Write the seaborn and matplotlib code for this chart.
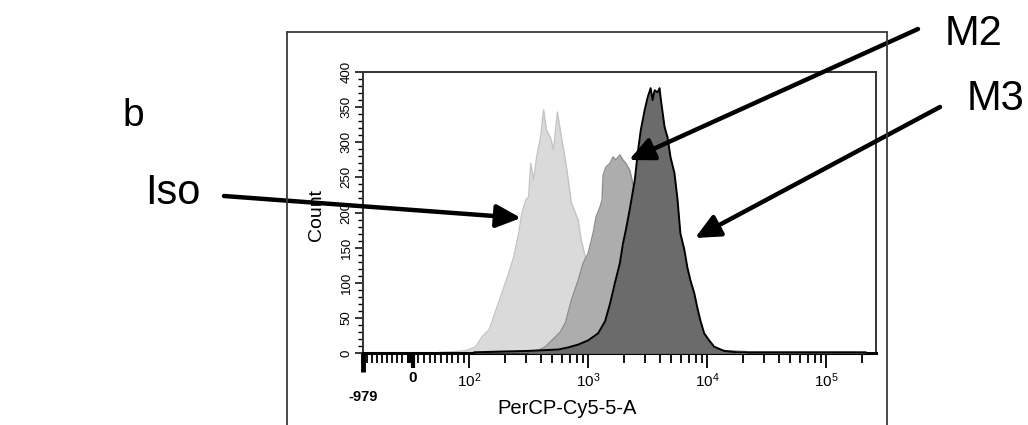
import numpy as np
import matplotlib
matplotlib.use("Agg")
import matplotlib.pyplot as plt
import matplotlib.transforms as mtrans
from matplotlib.lines import Line2D
import seaborn as sns

sns.set_style("white")
plt.rcParams["font.family"] = ["Liberation Sans", "DejaVu Sans"]
plt.rcParams["mathtext.fontset"] = "custom"
plt.rcParams["mathtext.rm"] = "Liberation Sans"
plt.rcParams["mathtext.it"] = "Liberation Sans:italic"
plt.rcParams["mathtext.bf"] = "Liberation Sans:bold"
for key in ["text.color", "axes.labelcolor", "xtick.color", "ytick.color"]:
    plt.rcParams[key] = "black"

# histogram values (PerCP-Cy5-5-A intensity, count)
iso_x = [47, 74, 91, 100, 114, 128, 147, 168, 188, 215, 237, 261, 277, 299, 316, 329, 348, 369, 398, 422,
         447, 482, 511, 552, 596, 643, 681, 722, 825, 874, 944, 1059, 1211, 1386, 1555, 1778, 2034, 2371,
         2873, 3830, 8254, 26100, 177800]
iso_y = [1, 2, 3, 5, 9, 23, 33, 61, 85, 114, 137, 171, 199, 218, 222, 270, 246, 279, 307, 346,
         317, 307, 289, 343, 307, 275, 246, 214, 189, 161, 137, 105, 75, 50, 30, 18, 10, 5,
         3, 2, 1, 1, 1]

m2_x = [316, 383, 438, 531, 584, 643, 722, 825, 908, 1000, 1101, 1166, 1259, 1308, 1334, 1413, 1526, 1616,
        1711, 1848, 1957, 2073, 2239, 2464, 2873, 3481, 4217, 5109, 6190, 8254, 12115, 21544]
m2_y = [2, 4, 9, 23, 30, 43, 75, 104, 128, 142, 171, 194, 208, 218, 253, 265, 270, 279,
        275, 282, 275, 270, 260, 230, 190, 130, 80, 45, 25, 10, 4, 2]

m3_x = [110, 178, 316, 562, 681, 825, 1000, 1211, 1386, 1526, 1679, 1848, 1957, 2073, 2239, 2464, 2610,
        2766, 2985, 3162, 3350, 3481, 3616, 3831, 3981, 4058, 4383, 4642, 4918, 5309, 5623, 5957, 6432,
        6813, 7217, 7793, 8254, 8745, 9441, 10390, 11440, 13860, 17780, 56230, 215400]
m3_y = [1, 2, 3, 5, 8, 12, 18, 28, 45, 70, 100, 128, 155, 175, 205, 246, 285,
        317, 346, 364, 377, 360, 374, 371, 377, 364, 322, 307, 279, 256, 220, 170, 147,
        122, 104, 85, 65, 47, 28, 18, 9, 3, 1, 1, 1]

x_major = [-979, 0, 100, 1000, 10000, 100000]
x_major_labels = ["", "0", r"$\mathregular{10^{2}}$", r"$\mathregular{10^{3}}$",
                  r"$\mathregular{10^{4}}$", r"$\mathregular{10^{5}}$"]
y_major = [0, 50, 100, 150, 200, 250, 300, 350, 400]


# logicle-like axis: linear around zero, log above 100
def fwd(x):
    x = np.asarray(x, dtype=float)
    lg = np.log10(np.clip(x, 100, None))
    lin = 1.525 + 0.475 * x / 100
    neg = 1.525 + x * (0.417 / 979)
    return np.where(x >= 100, lg, np.where(x >= 0, lin, neg))


def inv(u):
    u = np.asarray(u, dtype=float)
    lg = 10 ** np.clip(u, 2, 12)
    lin = (u - 1.525) / 0.475 * 100
    neg = (u - 1.525) * 979 / 0.417
    return np.where(u >= 2, lg, np.where(u >= 1.525, lin, neg))


fig = plt.figure(figsize=(10.28, 4.25), dpi=100)
ax = fig.add_axes([363 / 1028, 1 - 353 / 425, 513 / 1028, 281 / 425])
ax.set_xscale("function", functions=(fwd, inv))

series = [(iso_x, iso_y, "#dadada", "#c4c4c4", 1.0),
          (m2_x, m2_y, "#adadad", "#8c8c8c", 1.0),
          (m3_x, m3_y, "#6b6b6b", "black", 1.4)]
for i, (xs, ys, fill, edge, lw) in enumerate(series):
    ax.fill_between(xs, ys, 0, color=fill, lw=0, zorder=2 * i + 1)
    sns.lineplot(x=xs, y=ys, ax=ax, color=edge, linewidth=lw, zorder=2 * i + 2)

ax.set_xlim(-979, 262144)
ax.set_ylim(0, 400)

# ticks
minor = [-v for v in range(100, 1000, 100)] + [-v for v in range(10, 100, 10)] + list(range(10, 100, 10))
for dec in [100, 1000, 10000]:
    minor += [dec * k for k in range(2, 10)]
minor += [200000]
ax.set_xticks(x_major)
ax.set_xticklabels(x_major_labels)
ax.set_xticks(minor, minor=True)
ax.set_yticks(y_major)
ax.set_yticks(range(0, 401, 10), minor=True)

ax.tick_params(axis="x", which="major", direction="out", length=11, width=1.3, pad=2,
               labelsize=11, bottom=True)
ax.tick_params(axis="x", which="minor", direction="out", length=7, width=1.3, bottom=True)
ax.tick_params(axis="y", which="major", direction="out", length=6, width=1.1, pad=1.5,
               labelsize=9.5, left=True, labelrotation=90)
ax.tick_params(axis="y", which="minor", direction="out", length=3.5, width=1.0, left=True)
for lab in ax.get_yticklabels():
    lab.set_va("center")
ax.get_xticklabels()[1].set_fontweight("bold")
ax.xaxis.get_major_ticks()[0].tick1line.set_markeredgewidth(3.5)
ax.xaxis.get_major_ticks()[0].tick1line.set_markersize(14)
ax.xaxis.get_major_ticks()[1].tick1line.set_markeredgewidth(3)

ax.text(-979, -0.13, "-979", transform=mtrans.blended_transform_factory(ax.transData, ax.transAxes),
        ha="center", va="top", fontsize=10.5, fontweight="bold")

for side in ["left", "right", "top"]:
    ax.spines[side].set_linewidth(1.4)
    ax.spines[side].set_color("#333333")
ax.spines["bottom"].set_linewidth(2.2)
ax.spines["bottom"].set_color("black")

ax.set_xlabel("PerCP-Cy5-5-A", fontsize=14.5)
ax.xaxis.set_label_coords(0.398, -0.165)
ax.xaxis.label.set_va("top")
ax.set_ylabel("Count", fontsize=14)
ax.yaxis.set_label_coords(-0.074, 0.49)

# outer frame of the panel
for xs_px, ys_px in [([287, 287], [32, 425]), ([287, 887], [32, 32]), ([887, 887], [32, 425])]:
    fig.add_artist(Line2D([v / 1028 for v in xs_px], [1 - v / 425 for v in ys_px],
                          transform=fig.transFigure, color="#3a3a3a", lw=1.3))

# panel letter, labels and arrows
H = 425
fig.text(122 / 1028, 1 - 126 / H, "b", fontsize=28, ha="left", va="baseline")
fig.text(145 / 1028, 1 - 204 / H, "Iso", fontsize=30, ha="left", va="baseline")
fig.text(945 / 1028, 1 - 45 / H, "M2", fontsize=30, ha="left", va="baseline")
fig.text(967 / 1028, 1 - 110 / H, "M3", fontsize=30, ha="left", va="baseline")

arrow_kw = dict(arrowstyle="-|>,head_length=0.75,head_width=0.35", lw=3.2, color="black",
                mutation_scale=20, shrinkA=0, shrinkB=0)
for tail, tip in [((224, 196), (521, 218)), ((918, 29), (629, 160)), ((940, 107), (695, 238))]:
    ax.annotate("", xy=(tip[0], H - tip[1]), xycoords="figure pixels",
                xytext=(tail[0], H - tail[1]), textcoords="figure pixels",
                arrowprops=arrow_kw, annotation_clip=False, zorder=10)

fig.savefig("out.png", dpi=100)
